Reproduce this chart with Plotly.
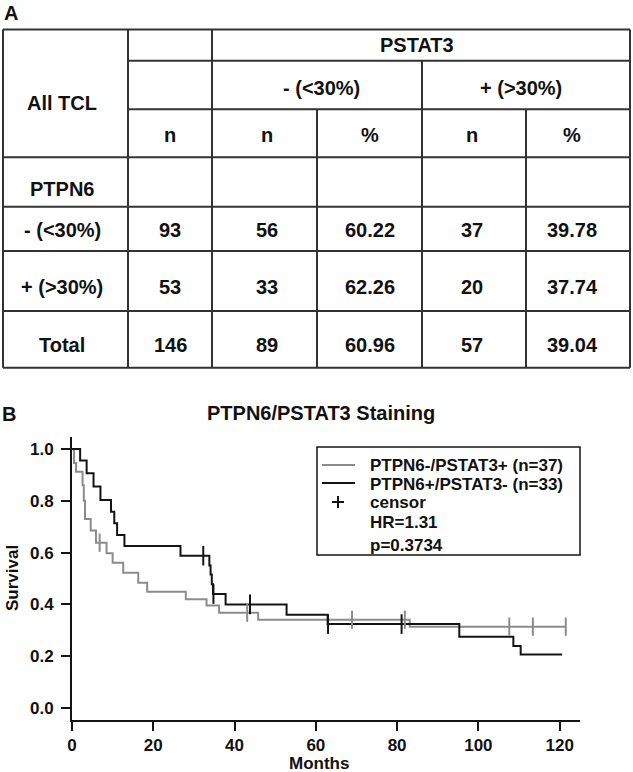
import plotly.graph_objects as go

# ---------------- Panel A: table data ----------------
corner_label = "All TCL"
col_header_top = "PSTAT3"
col_groups = ["- (<30%)", "+ (>30%)"]
sub_headers = ["n", "n", "%", "n", "%"]
row_group_label = "PTPN6"
row_labels = ["- (<30%)", "+ (>30%)", "Total"]
row_n = ["93", "53", "146"]
neg_n = ["56", "33", "89"]
neg_pct = ["60.22", "62.26", "60.96"]
pos_n = ["37", "20", "57"]
pos_pct = ["39.78", "37.74", "39.04"]

# ---------------- Panel B: Kaplan-Meier data ----------------
plot_title = "PTPN6/PSTAT3 Staining"
x_title = "Months"
y_title = "Survival"
series_names = ["PTPN6-/PSTAT3+ (n=37)", "PTPN6+/PSTAT3- (n=33)"]
extra_legend = ["censor", "HR=1.31", "p=0.3734"]

grey_t = [0, 0.5, 1.0, 2.6, 2.9, 3.2, 4.6, 5.9, 8.5, 10.0, 12.6, 16.3, 18.5,
          28.0, 33.1, 36.2, 45.8, 83.1, 121.5]
grey_s = [1.0, 0.946, 0.912, 0.86, 0.80, 0.73, 0.685, 0.638, 0.597, 0.561, 0.522,
          0.484, 0.449, 0.42, 0.396, 0.368, 0.341, 0.314, 0.314]
grey_cens_t = [6.8, 43.1, 68.9, 81.9, 107.6, 113.4, 121.5]

black_t = [0, 2.0, 3.6, 5.3, 7.0, 9.6, 10.4, 11.1, 12.9, 26.7, 33.8, 34.1, 34.4,
           34.7, 37.8, 52.8, 62.9, 95.3, 108.6, 110.4, 120.6]
black_s = [1.0, 0.955, 0.906, 0.855, 0.803, 0.758, 0.713, 0.668, 0.625, 0.588, 0.55,
           0.515, 0.478, 0.44, 0.40, 0.36, 0.324, 0.275, 0.24, 0.207, 0.207]
black_cens_t = [32.3, 34.8, 43.8, 63.0, 81.1]

x_ticks = [0, 20, 40, 60, 80, 100, 120]
y_ticks = [0.0, 0.2, 0.4, 0.6, 0.8, 1.0]
y_tick_text = ["0.0", "0.2", "0.4", "0.6", "0.8", "1.0"]

# ---------------- layout helpers (pixel -> paper) ----------------
W, H = 633, 772
FONT = "Liberation Sans, Arial, sans-serif"
GREY = "#8c8c8c"
BLACK = "#141414"
GRID = "#333333"


def fx(px):
    return px / W


def fy(py):
    return 1 - py / H


def step_value(ts, ss, t):
    v = ss[0]
    for ti, si in zip(ts, ss):
        if ti <= t:
            v = si
    return v


shapes = []
annotations = []


def hline(x0, x1, y, color=GRID, width=2):
    shapes.append(dict(type="line", xref="paper", yref="paper",
                       x0=fx(x0), x1=fx(x1), y0=fy(y), y1=fy(y),
                       line=dict(color=color, width=width)))


def vline(x, y0, y1, color=GRID, width=2):
    shapes.append(dict(type="line", xref="paper", yref="paper",
                       x0=fx(x), x1=fx(x), y0=fy(y0), y1=fy(y1),
                       line=dict(color=color, width=width)))


def text(x, y, s, size=19, xanchor="center", color="#111111", angle=0):
    annotations.append(dict(xref="paper", yref="paper", x=fx(x), y=fy(y),
                            text="<b>%s</b>" % s, showarrow=False,
                            xanchor=xanchor, yanchor="middle", textangle=angle,
                            font=dict(family=FONT, size=size, color=color)))


# ---------------- Panel A: table grid ----------------
cols = [3, 128, 212, 317, 422, 526, 630]
rows = [29.5, 60.7, 109.3, 157.3, 206.7, 251, 311, 367.7]

hline(cols[0], cols[-1], rows[0])
hline(cols[0], cols[-1], rows[-1])
vline(cols[0], rows[0], rows[-1])
vline(cols[-1], rows[0], rows[-1])
hline(cols[1], cols[-1], rows[1])
hline(cols[1], cols[-1], rows[2])
hline(cols[0], cols[-1], rows[3])
for r in rows[4:-1]:
    hline(cols[0], cols[-1], r)
vline(cols[1], rows[0], rows[-1])
vline(cols[2], rows[0], rows[-1])
vline(cols[4], rows[1], rows[-1])
vline(cols[3], rows[2], rows[-1])
vline(cols[5], rows[2], rows[-1])

TS = 20
col_text_x = [62, 170, 267, 370, 472, 572]
text(11, 13.5, "A", size=20)
text(417, 45, col_header_top, size=TS)
text(321, 88.3, col_groups[0], size=TS)
text(521, 88.3, col_groups[1], size=TS)
text(col_text_x[0], 103.3, corner_label, size=TS)
for cx, h in zip(col_text_x[1:], sub_headers):
    text(cx, 135, h, size=TS)
text(col_text_x[0], 189.3, row_group_label, size=TS)
body_y = [230, 286.7, 345]
for i, yy in enumerate(body_y):
    vals = [row_labels[i], row_n[i], neg_n[i], neg_pct[i], pos_n[i], pos_pct[i]]
    for cx, v in zip(col_text_x, vals):
        text(cx, yy, v, size=TS)

# ---------------- Panel B: KM plot ----------------
fig = go.Figure()
fig.add_trace(go.Scatter(x=grey_t, y=grey_s, mode="lines", line_shape="hv",
                         line=dict(color=GREY, width=2), showlegend=False,
                         name=series_names[0]))
fig.add_trace(go.Scatter(x=black_t, y=black_s, mode="lines", line_shape="hv",
                         line=dict(color=BLACK, width=2), showlegend=False,
                         name=series_names[1]))
fig.add_trace(go.Scatter(x=grey_cens_t,
                         y=[step_value(grey_t, grey_s, t) for t in grey_cens_t],
                         mode="markers", showlegend=False,
                         marker=dict(symbol="line-ns-open", size=13, color=GREY,
                                     line=dict(color=GREY, width=2))))
fig.add_trace(go.Scatter(x=black_cens_t,
                         y=[step_value(black_t, black_s, t) for t in black_cens_t],
                         mode="markers", showlegend=False,
                         marker=dict(symbol="line-ns-open", size=14, color=BLACK,
                                     line=dict(color=BLACK, width=2))))

text(9, 413.5, "B", size=20)
text(321, 413, plot_title, size=20)
text(319, 763, x_title, size=17)
text(12, 578, y_title, size=17, angle=-90)

# legend box (manual)
shapes.append(dict(type="rect", xref="paper", yref="paper",
                   x0=fx(317), x1=fx(580), y0=fy(447), y1=fy(555),
                   line=dict(color=BLACK, width=1.5), fillcolor="white", layer="below"))
hline(322, 355, 465, color=GREY, width=2)
hline(322, 355, 483, color=BLACK, width=2.2)
hline(332, 344, 502, color=BLACK, width=2)
vline(338, 496, 508, color=BLACK, width=2)
legend_lines = series_names + extra_legend
legend_y = [465, 484, 502, 522, 545]
for s, yy in zip(legend_lines, legend_y):
    text(368, yy, s, size=17, xanchor="left")

axis_common = dict(showline=True, linewidth=2, linecolor=BLACK, ticks="outside",
                   ticklen=9, tickwidth=2, tickcolor=BLACK, showgrid=False,
                   zeroline=False, mirror=False, automargin=False,
                   tickfont=dict(family=FONT, size=17, color="#111111", weight="bold"))

fig.update_layout(
    width=W, height=H,
    margin=dict(l=0, r=0, t=0, b=0),
    paper_bgcolor="white", plot_bgcolor="rgba(0,0,0,0)",
    showlegend=False,
    shapes=shapes, annotations=annotations,
    xaxis=dict(domain=[fx(72), fx(580)], range=[0, 125],
               tickvals=x_ticks, ticktext=[str(v) for v in x_ticks],
               **axis_common),
    yaxis=dict(domain=[fy(720), fy(437)], range=[-0.046, 1.046],
               tickvals=y_ticks, ticktext=y_tick_text, ticklabelstandoff=4,
               **axis_common),
)

fig.write_html("out.html", config={"displayModeBar": False},
               post_script="document.body.style.margin='0';document.body.style.overflow='hidden';")
